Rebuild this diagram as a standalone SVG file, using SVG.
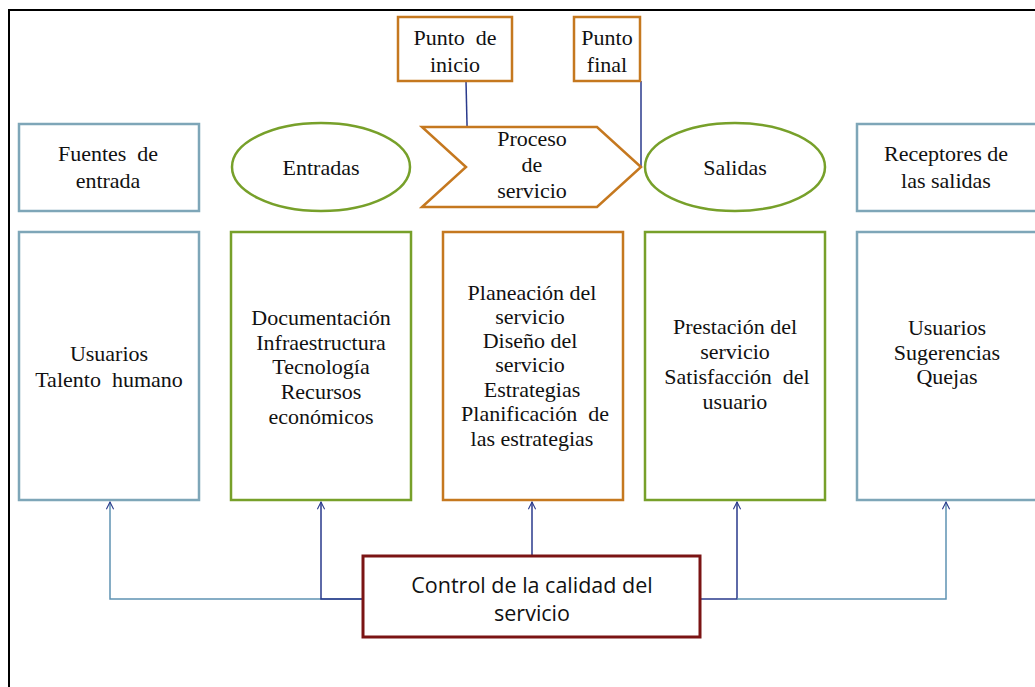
<svg xmlns="http://www.w3.org/2000/svg" width="1035" height="687" viewBox="0 0 1035 687">
<defs>
<style>
.t{fill:#111;text-anchor:middle}
.blue{fill:#fff;stroke:#7ea6b8;stroke-width:2.5}
.green{fill:#fff;stroke:#77a02a;stroke-width:2.5}
.orange{fill:#fff;stroke:#c5781f;stroke-width:2.5}
.red{fill:#fff;stroke:#7b1414;stroke-width:3}
.lb{fill:none;stroke:#5f93b3;stroke-width:1.5}
.ln{fill:none;stroke:#2a3a8c;stroke-width:1.5}
</style>
<marker id="ah" viewBox="0 0 10 10" refX="9" refY="5" markerWidth="9" markerHeight="9" markerUnits="userSpaceOnUse" orient="auto">
<path d="M1,1 L9,5 L1,9" fill="none" stroke="#2a3a8c" stroke-width="1.2"/>
</marker>
</defs>
<rect x="0" y="0" width="1035" height="687" fill="#fff"/>
<path d="M9,687 L9,10 L1035,10" fill="none" stroke="#000" stroke-width="2"/>

<g id="connectors">
<line x1="466" y1="81" x2="468" y2="167" class="ln"/>
<line x1="641" y1="81" x2="641" y2="167" class="ln"/>
<path d="M363,599 L110,599 L110,502" class="lb" marker-end="url(#ah)"/>
<path d="M363,599 L321,599 L321,502" class="ln" marker-end="url(#ah)"/>
<path d="M532,556 L532,502" class="ln" marker-end="url(#ah)"/>
<path d="M700,599 L737,599 L737,502" class="ln" marker-end="url(#ah)"/>
<path d="M737,599 L946,599 L946,502" class="lb" marker-end="url(#ah)"/>
</g>

<g id="punto-inicio">
<rect x="398" y="17" width="114" height="64" class="orange"/>
<text style="font-family:'Liberation Serif',serif;font-size:22px" x="455" y="45" class="t" xml:space="preserve">Punto  de</text>
<text style="font-family:'Liberation Serif',serif;font-size:22px" x="455" y="72" class="t">inicio</text>
</g>
<g id="punto-final">
<rect x="574" y="17" width="66" height="64" class="orange"/>
<text style="font-family:'Liberation Serif',serif;font-size:22px" x="607" y="45" class="t">Punto</text>
<text style="font-family:'Liberation Serif',serif;font-size:22px" x="607" y="72" class="t">final</text>
</g>

<g id="fuentes">
<rect x="19" y="124" width="180" height="87" class="blue"/>
<text style="font-family:'Liberation Serif',serif;font-size:22px" x="108" y="161" class="t" xml:space="preserve">Fuentes  de</text>
<text style="font-family:'Liberation Serif',serif;font-size:22px" x="108" y="188" class="t">entrada</text>
</g>
<g id="entradas">
<ellipse cx="321" cy="167" rx="89" ry="44" class="green"/>
<text style="font-family:'Liberation Serif',serif;font-size:22px" x="321" y="175" class="t">Entradas</text>
</g>
<g id="proceso">
<polygon points="422,127 597,127 641,167 597,207 422,207 466,167" class="orange"/>
<text style="font-family:'Liberation Serif',serif;font-size:22px" x="532" y="146" class="t">Proceso</text>
<text style="font-family:'Liberation Serif',serif;font-size:22px" x="532" y="172" class="t">de</text>
<text style="font-family:'Liberation Serif',serif;font-size:22px" x="532" y="198" class="t">servicio</text>
</g>
<g id="salidas">
<ellipse cx="735" cy="167" rx="90" ry="44" class="green"/>
<text style="font-family:'Liberation Serif',serif;font-size:22px" x="735" y="175" class="t">Salidas</text>
</g>
<g id="receptores">
<rect x="857" y="124" width="182" height="87" class="blue"/>
<text style="font-family:'Liberation Serif',serif;font-size:22px" x="946" y="161" class="t">Receptores de</text>
<text style="font-family:'Liberation Serif',serif;font-size:22px" x="946" y="188" class="t">las salidas</text>
</g>

<g id="box-fuentes">
<rect x="19" y="232" width="180" height="268" class="blue"/>
<text style="font-family:'Liberation Serif',serif;font-size:22px" x="109" y="361" class="t">Usuarios</text>
<text style="font-family:'Liberation Serif',serif;font-size:22px" x="109" y="387" class="t" xml:space="preserve">Talento  humano</text>
</g>
<g id="box-entradas">
<rect x="231" y="232" width="180" height="268" class="green"/>
<text style="font-family:'Liberation Serif',serif;font-size:22px" x="321" y="325" class="t">Documentación</text>
<text style="font-family:'Liberation Serif',serif;font-size:22px" x="321" y="350" class="t">Infraestructura</text>
<text style="font-family:'Liberation Serif',serif;font-size:22px" x="321" y="374" class="t">Tecnología</text>
<text style="font-family:'Liberation Serif',serif;font-size:22px" x="321" y="399" class="t">Recursos</text>
<text style="font-family:'Liberation Serif',serif;font-size:22px" x="321" y="424" class="t">económicos</text>
</g>
<g id="box-proceso">
<rect x="443" y="232" width="180" height="268" class="orange"/>
<text style="font-family:'Liberation Serif',serif;font-size:22px" x="532" y="300" class="t">Planeación del</text>
<text style="font-family:'Liberation Serif',serif;font-size:22px" x="530" y="324" class="t">servicio</text>
<text style="font-family:'Liberation Serif',serif;font-size:22px" x="530" y="348" class="t">Diseño del</text>
<text style="font-family:'Liberation Serif',serif;font-size:22px" x="530" y="372" class="t">servicio</text>
<text style="font-family:'Liberation Serif',serif;font-size:22px" x="532" y="397" class="t">Estrategias</text>
<text style="font-family:'Liberation Serif',serif;font-size:22px" x="535" y="421" class="t" xml:space="preserve">Planificación  de</text>
<text style="font-family:'Liberation Serif',serif;font-size:22px" x="532" y="446" class="t">las estrategias</text>
</g>
<g id="box-salidas">
<rect x="645" y="232" width="180" height="268" class="green"/>
<text style="font-family:'Liberation Serif',serif;font-size:22px" x="735" y="334" class="t">Prestación del</text>
<text style="font-family:'Liberation Serif',serif;font-size:22px" x="735" y="359" class="t">servicio</text>
<text style="font-family:'Liberation Serif',serif;font-size:22px" x="737" y="384" class="t" xml:space="preserve">Satisfacción  del</text>
<text style="font-family:'Liberation Serif',serif;font-size:22px" x="735" y="409" class="t">usuario</text>
</g>
<g id="box-receptores">
<rect x="857" y="232" width="182" height="268" class="blue"/>
<text style="font-family:'Liberation Serif',serif;font-size:22px" x="947" y="335" class="t">Usuarios</text>
<text style="font-family:'Liberation Serif',serif;font-size:22px" x="947" y="360" class="t">Sugerencias</text>
<text style="font-family:'Liberation Serif',serif;font-size:22px" x="947" y="384" class="t">Quejas</text>
</g>

<g id="control">
<rect x="363" y="556" width="337" height="81" class="red"/>
<text style="font-family:'Open Sans',sans-serif;font-size:21.5px" x="532" y="593" class="t">Control de la calidad del</text>
<text style="font-family:'Open Sans',sans-serif;font-size:21.5px" x="532" y="621" class="t">servicio</text>
</g>
</svg>
